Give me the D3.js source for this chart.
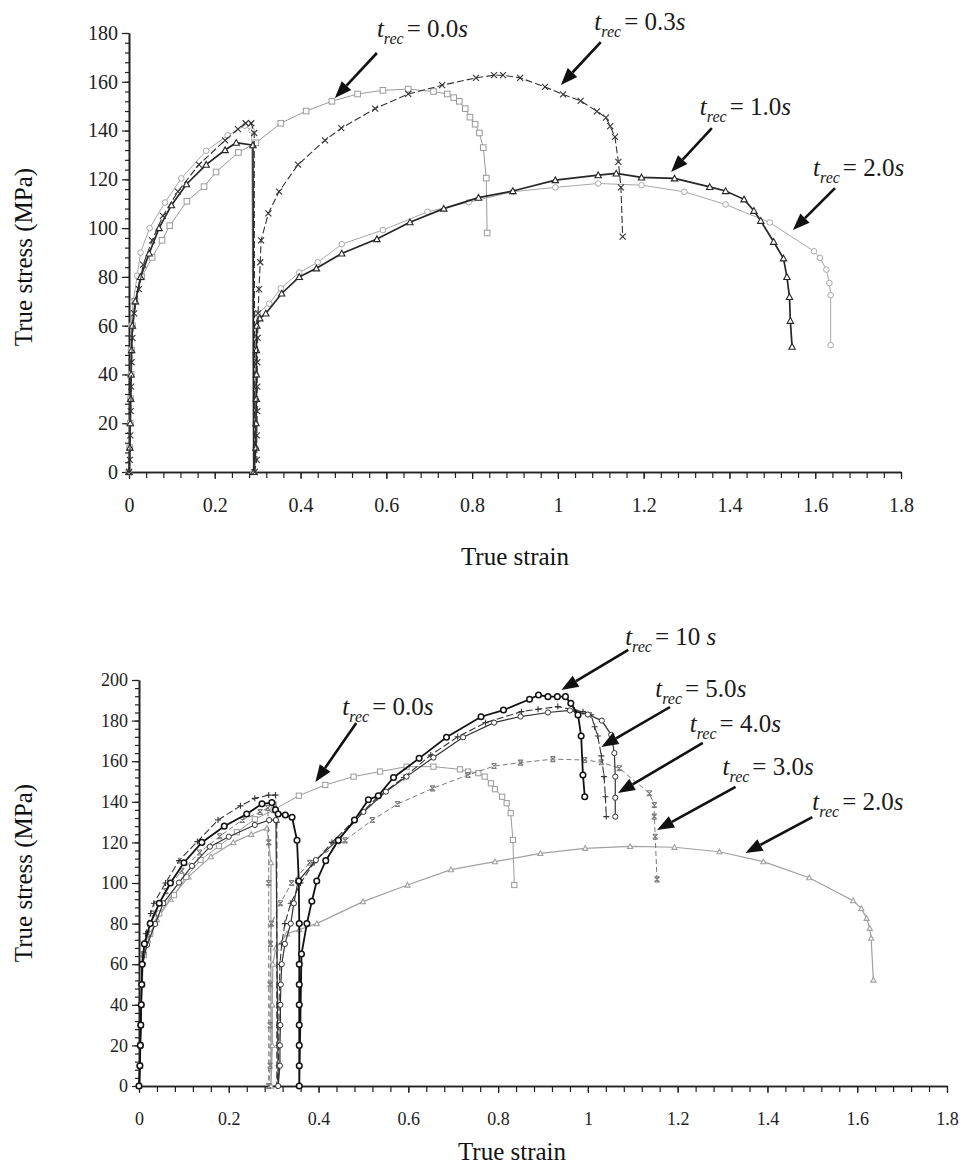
<!DOCTYPE html>
<html>
<head>
<meta charset="utf-8">
<script src="https://cdn.jsdelivr.net/npm/d3@7"></script>
<style>
  body { margin: 0; background: #fff; }
  svg { display: block; font-family: "Liberation Serif", "Times New Roman", serif; }
</style>
</head>
<body>
<svg id="chart" width="961" height="1172"></svg>
<script>
// ---- shared ticks ----
const xTicks = [0, 0.2, 0.4, 0.6, 0.8, 1, 1.2, 1.4, 1.6, 1.8];
const topYTicks = [0, 20, 40, 60, 80, 100, 120, 140, 160, 180];
const botYTicks = [0, 20, 40, 60, 80, 100, 120, 140, 160, 180, 200];

// ---- top panel: [true strain, true stress MPa] ----
const top_t00 = [[0,0],[0.002,10],[0.003,20],[0.004,30],[0.005,40],[0.006,50],[0.008,60],[0.014,70],[0.03,80],[0.054,88],[0.077,95],[0.095,101],[0.135,111],[0.175,117],[0.203,123],[0.255,131],[0.296,135],[0.354,143],[0.413,148],[0.473,152],[0.533,155],[0.592,156.5],[0.651,157],[0.71,156],[0.742,155],[0.757,153.5],[0.77,152],[0.784,149],[0.795,145.5],[0.807,142.6],[0.817,139],[0.826,133],[0.833,120.5],[0.835,98]];
const top_t03 = [[0,0],[0.002,5],[0.003,15],[0.004,25],[0.005,35],[0.006,45],[0.008,55],[0.012,65],[0.023,75],[0.033,85],[0.054,95],[0.079,105],[0.114,115],[0.163,126],[0.224,136],[0.254,140.6],[0.272,143],[0.285,143],[0.292,139],[0.293,0],[0.298,5],[0.298,15],[0.299,25],[0.299,35],[0.299,45],[0.3,55],[0.301,65],[0.303,75],[0.306,86],[0.308,95],[0.325,106],[0.35,115],[0.394,126],[0.457,136],[0.495,141],[0.574,149],[0.651,155],[0.73,158.6],[0.809,161.6],[0.851,162.7],[0.872,162.7],[0.912,161.6],[0.97,157.9],[1.012,154.8],[1.053,152.2],[1.091,147.9],[1.112,145.3],[1.122,141.8],[1.133,137.4],[1.141,127.2],[1.147,116.7],[1.151,96.5]];
const top_t10 = [[0,0],[0.002,10],[0.003,20],[0.004,30],[0.005,40],[0.006,50],[0.008,60],[0.015,70],[0.027,80],[0.047,89.6],[0.07,100],[0.099,109.4],[0.134,118],[0.18,126],[0.224,132],[0.25,135],[0.289,134],[0.291,0],[0.296,10],[0.296,20],[0.297,30],[0.297,40],[0.297,50],[0.298,60],[0.305,63],[0.319,65],[0.356,73.2],[0.397,80],[0.437,83.5],[0.496,89.6],[0.578,95.5],[0.655,102.4],[0.734,108],[0.815,112.5],[0.895,115.2],[0.994,119.7],[1.094,121.7],[1.136,122.4],[1.195,120.8],[1.272,120.4],[1.354,116.9],[1.391,115.2],[1.434,111.8],[1.457,107.1],[1.473,103],[1.503,94.4],[1.526,87.6],[1.534,80],[1.54,71.8],[1.542,62],[1.546,51.4]];
const top_t20 = [[0,0],[0.002,10],[0.003,20],[0.003,30],[0.004,40],[0.004,50],[0.005,60],[0.01,70],[0.019,80.5],[0.027,90],[0.048,100],[0.084,110.5],[0.122,120.4],[0.18,131.7],[0.23,138],[0.27,142],[0.286,140],[0.29,0],[0.295,10],[0.295,20],[0.295,30],[0.296,40],[0.296,50],[0.296,60],[0.3,65],[0.327,69],[0.354,75.3],[0.397,81.8],[0.44,86],[0.496,93.4],[0.592,99.2],[0.696,106.7],[0.792,110.6],[0.895,114.9],[0.994,116.7],[1.094,118.3],[1.195,117.6],[1.295,114.9],[1.391,109.7],[1.494,102.3],[1.597,90.5],[1.611,87.8],[1.626,83],[1.633,77.5],[1.636,72.5],[1.636,52]];

// ---- bottom panel ----
const bot_t00 = [[0,0],[0.002,10],[0.003,20],[0.004,30],[0.005,40],[0.007,50],[0.011,64.5],[0.025,75],[0.045,85],[0.078,94],[0.105,103],[0.137,111.3],[0.178,118.2],[0.218,125],[0.258,131.4],[0.3,136],[0.356,143],[0.415,148.3],[0.478,152.4],[0.537,154.9],[0.596,157.3],[0.656,157.3],[0.715,156],[0.733,154.9],[0.756,154.1],[0.77,152.4],[0.784,149.1],[0.793,146.2],[0.809,142.5],[0.819,139.3],[0.828,134.4],[0.833,121.2],[0.836,99]];
const bot_t20 = [[0,0],[0.002,10],[0.003,20],[0.004,30],[0.005,40],[0.005,50],[0.006,60],[0.02,72],[0.04,82],[0.07,92],[0.11,103],[0.16,113],[0.21,120],[0.25,124],[0.285,127],[0.294,110],[0.294,0],[0.297,20],[0.297,40],[0.298,60],[0.305,68],[0.33,75],[0.357,77],[0.396,80],[0.499,90.8],[0.598,99],[0.695,106.6],[0.793,110.5],[0.894,114.6],[0.994,117.1],[1.094,118],[1.193,117.6],[1.293,115.4],[1.391,110.5],[1.493,102.6],[1.591,91.3],[1.609,87.5],[1.621,82.6],[1.628,77.7],[1.631,72.8],[1.636,52.2]];
const bot_t30 = [[0,0],[0.002,10],[0.003,20],[0.004,30],[0.005,40],[0.006,50],[0.008,65],[0.02,75],[0.035,85],[0.06,96],[0.095,106],[0.135,115],[0.18,123],[0.23,131],[0.27,135],[0.287,137],[0.289,120],[0.289,100],[0.289,0],[0.292,10],[0.292,30],[0.292,50],[0.293,70],[0.295,80],[0.315,90],[0.34,100],[0.38,110],[0.459,121],[0.52,131],[0.576,138.9],[0.654,146.6],[0.733,153.2],[0.791,157.6],[0.85,159.3],[0.922,161],[0.993,160.6],[1.03,159.5],[1.07,156.5],[1.137,144.2],[1.148,138.4],[1.148,132.7],[1.15,122.8],[1.154,101.8]];
const bot_t40 = [[0,0],[0.002,10],[0.003,20],[0.004,30],[0.005,40],[0.006,50],[0.008,60],[0.018,69.5],[0.036,79.8],[0.054,90],[0.089,100.2],[0.118,108.4],[0.158,117.9],[0.2,122.8],[0.258,128.6],[0.29,131],[0.305,131],[0.31,0],[0.314,10],[0.314,20],[0.315,30],[0.315,40],[0.316,50],[0.318,60],[0.325,70],[0.338,80],[0.345,90],[0.354,100.7],[0.394,111.3],[0.444,121.5],[0.5,135],[0.55,145],[0.596,152.4],[0.656,161.8],[0.722,171.8],[0.791,179],[0.85,182],[0.911,184],[0.96,185],[1.0,183],[1.031,180],[1.052,173],[1.059,164],[1.061,152.4],[1.061,142],[1.061,132.7]];
const bot_t50 = [[0,0],[0.002,10],[0.003,20],[0.004,30],[0.005,40],[0.006,50],[0.008,60],[0.015,75],[0.026,85],[0.033,90],[0.059,100],[0.089,111],[0.13,120.4],[0.176,131],[0.226,138],[0.258,141.7],[0.289,143.3],[0.304,143.3],[0.307,130],[0.307,0],[0.311,10],[0.311,20],[0.312,30],[0.312,40],[0.313,50],[0.314,60],[0.318,70],[0.325,80],[0.338,90],[0.36,100],[0.39,110],[0.43,120],[0.48,131],[0.53,142],[0.59,152],[0.65,163],[0.71,172],[0.772,179],[0.852,184.4],[0.889,185.6],[0.933,186.9],[0.97,185.2],[0.989,184.4],[1.007,182.8],[1.015,177],[1.022,172.4],[1.03,162.6],[1.036,152.4],[1.039,142.5],[1.041,132.7]];
const bot_t100 = [[0,0],[0.002,10],[0.003,20],[0.004,30],[0.005,40],[0.006,50],[0.007,60],[0.012,70],[0.025,80],[0.045,90],[0.07,100],[0.1,110],[0.14,120],[0.19,128],[0.24,134],[0.274,139],[0.296,139.6],[0.304,136],[0.31,134],[0.326,133.5],[0.341,132.4],[0.352,121],[0.356,101],[0.357,80],[0.357,60],[0.357,50],[0.357,40],[0.357,30],[0.357,20],[0.357,10],[0.357,0],[0.362,65],[0.374,80],[0.385,91],[0.396,101],[0.416,111],[0.444,121],[0.48,131],[0.511,141],[0.533,143],[0.567,152],[0.624,161.4],[0.685,171.8],[0.762,181.9],[0.812,185.2],[0.87,190.5],[0.89,192.6],[0.911,191.8],[0.932,191.8],[0.95,191.8],[0.962,188.5],[0.978,182.8],[0.985,172.4],[0.989,153.2],[0.993,142.5]];

// ---- annotations: label text, label anchor, arrow tail, arrow head (data units) ----
const topLabels = ['0.0', '0.3', '1.0', '2.0'];
const topLabelAt = [[0.578,178.4],[1.085,181.2],[1.331,146.4],[1.595,121.5]];
const topArrowFrom = [[0.578,171.8],[1.1,176.3],[1.359,141.0],[1.646,116.4]];
const topArrowTo = [[0.48,153.3],[1.007,158.7],[1.264,123.0],[1.548,99.2]];

const botLabels = ['0.0', '10 ', '5.0', '4.0', '3.0', '2.0'];
const botLabelAt = [[0.453,182.8],[1.083,217.2],[1.15,191.6],[1.227,174.4],[1.3,153.2],[1.5,136]];
const botArrowFrom = [[0.484,178.8],[1.09,214.8],[1.183,186.7],[1.256,169],[1.329,147.3],[1.5,132.5]];
const botArrowTo = [[0.393,149.8],[0.941,195.1],[1.03,167],[1.067,144.3],[1.154,126.1],[1.351,114.8]];

const svg = d3.select('#chart');
const light = '#9a9a9a';
const dark = '#262626';

function markerPath(type, s) {
    if (type === 'triangle') return `M0,${-s}L${s},${s * 0.8}L${-s},${s * 0.8}Z`;
    if (type === 'x') return `M${-s},${-s}L${s},${s}M${s},${-s}L${-s},${s}`;
    if (type === 'plus') return `M${-s},0L${s},0M0,${-s}L0,${s}`;
    if (type === 'xbar') return `M${-s},${-s}L${s},${s}M${s},${-s}L${-s},${s}M${-s},${-s}L${s},${-s}M${-s},${s}L${s},${s}`;
    return null;
}

function drawSeries(g, x, y, data, st) {
    const line = d3.line().x(d => x(d[0])).y(d => y(d[1]));
    g.append('path')
        .datum(data)
        .attr('d', line)
        .attr('fill', 'none')
        .attr('stroke', st.color)
        .attr('stroke-width', st.width)
        .attr('stroke-dasharray', st.dash || null);

    const m = g.append('g');
    if (st.marker === 'square') {
        m.selectAll('rect').data(data).join('rect')
            .attr('x', d => x(d[0]) - st.size)
            .attr('y', d => y(d[1]) - st.size)
            .attr('width', st.size * 2)
            .attr('height', st.size * 2)
            .attr('fill', '#fff').attr('stroke', st.color).attr('stroke-width', 1);
    } else if (st.marker === 'circle') {
        m.selectAll('circle').data(data).join('circle')
            .attr('cx', d => x(d[0]))
            .attr('cy', d => y(d[1]))
            .attr('r', st.size)
            .attr('fill', '#fff').attr('stroke', st.color).attr('stroke-width', st.mw || 1);
    } else {
        m.selectAll('path').data(data).join('path')
            .attr('transform', d => `translate(${x(d[0])},${y(d[1])})`)
            .attr('d', markerPath(st.marker, st.size))
            .attr('fill', st.marker === 'triangle' ? '#fff' : 'none')
            .attr('stroke', st.color)
            .attr('stroke-width', st.mw || 1.1);
    }
}

function drawAxes(g, x, y, yTicks, yMax, fs) {
    const xAxis = g.append('g').attr('transform', `translate(0,${y(0)})`);
    xAxis.call(d3.axisBottom(x).tickValues(d3.range(0, 46).map(i => i * 0.04)).tickSize(6).tickSizeOuter(0).tickFormat(''));
    xAxis.append('g').call(d3.axisBottom(x).tickValues(xTicks).tickSize(7).tickSizeOuter(0).tickPadding(19).tickFormat(d => String(d)));

    const yAxis = g.append('g').attr('transform', `translate(${x(0)},0)`);
    yAxis.call(d3.axisLeft(y).tickValues(d3.range(0, yMax / 4 + 1).map(i => i * 4)).tickSize(4).tickSizeOuter(0).tickFormat(''));
    yAxis.append('g').call(d3.axisLeft(y).tickValues(yTicks).tickSize(7).tickSizeOuter(0).tickPadding(4));

    g.selectAll('.domain').attr('stroke', '#222').attr('stroke-width', 1.6);
    g.selectAll('.tick line').attr('stroke', '#222').attr('stroke-width', 1.2);
    g.selectAll('.tick text').attr('font-family', '"Liberation Serif", serif').attr('font-size', fs).attr('fill', '#222');
}

function addLabel(g, px, py, value) {
    const t = g.append('text').attr('x', px).attr('y', py)
        .attr('font-size', 25).attr('fill', '#1a1a1a').style('white-space', 'pre');
    t.append('tspan').attr('font-style', 'italic').text('t');
    t.append('tspan').attr('font-style', 'italic').attr('font-size', 16).attr('dy', 7).text('rec');
    t.append('tspan').attr('dy', -7).attr('dx', 3).text('= ' + value);
    t.append('tspan').attr('font-style', 'italic').text('s');
}

function addArrow(g, x1, y1, x2, y2) {
    const ang = Math.atan2(y2 - y1, x2 - x1);
    const hl = 17, hw = 6.5;
    const bx = x2 - hl * Math.cos(ang), by = y2 - hl * Math.sin(ang);
    const nx = -Math.sin(ang), ny = Math.cos(ang);
    g.append('line').attr('x1', x1).attr('y1', y1).attr('x2', bx).attr('y2', by)
        .attr('stroke', '#111').attr('stroke-width', 2.6);
    g.append('path')
        .attr('d', `M${x2},${y2}L${bx + nx * hw},${by + ny * hw}L${bx - nx * hw},${by - ny * hw}Z`)
        .attr('fill', '#111');
}

function titles(g, cx, cyStrain, cyStress, xStress) {
    g.append('text').attr('x', cx).attr('y', cyStrain).attr('text-anchor', 'middle')
        .attr('font-size', 25).attr('fill', '#111').text('True strain');
    g.append('text').attr('transform', `translate(${xStress},${cyStress}) rotate(-90)`)
        .attr('text-anchor', 'middle').attr('font-size', 25).attr('fill', '#111').text('True stress (MPa)');
}

// ---- top panel ----
const xTop = d3.scaleLinear().domain([0, 1.8]).range([129, 901]);
const yTop = d3.scaleLinear().domain([0, 180]).range([472, 33]);
const gTop = svg.append('g');
drawAxes(gTop, xTop, yTop, topYTicks, 180, 20);
drawSeries(gTop, xTop, yTop, top_t20, { color: '#a8a8a8', width: 1, marker: 'circle', size: 2.8 });
drawSeries(gTop, xTop, yTop, top_t00, { color: light, width: 1, marker: 'square', size: 2.8 });
drawSeries(gTop, xTop, yTop, top_t10, { color: dark, width: 1.7, marker: 'triangle', size: 3.2 });
drawSeries(gTop, xTop, yTop, top_t03, { color: '#333', width: 1.1, dash: '7,3', marker: 'x', size: 3 });
topLabels.forEach((v, i) => {
    addLabel(gTop, xTop(topLabelAt[i][0]), yTop(topLabelAt[i][1]), v);
    addArrow(gTop, xTop(topArrowFrom[i][0]), yTop(topArrowFrom[i][1]), xTop(topArrowTo[i][0]), yTop(topArrowTo[i][1]));
});
titles(gTop, 515, 565, 257, 32);

// ---- bottom panel ----
const xBot = d3.scaleLinear().domain([0, 1.8]).range([139, 947]);
const yBot = d3.scaleLinear().domain([0, 200]).range([1086, 680]);
const gBot = svg.append('g');
drawAxes(gBot, xBot, yBot, botYTicks, 200, 18);
drawSeries(gBot, xBot, yBot, bot_t20, { color: '#a0a0a0', width: 1.2, marker: 'triangle', size: 2.6 });
drawSeries(gBot, xBot, yBot, bot_t00, { color: light, width: 1, marker: 'square', size: 2.6 });
drawSeries(gBot, xBot, yBot, bot_t30, { color: '#7a7a7a', width: 1, dash: '5,3', marker: 'xbar', size: 2.5 });
drawSeries(gBot, xBot, yBot, bot_t50, { color: '#333', width: 1.1, dash: '7,3', marker: 'plus', size: 3 });
drawSeries(gBot, xBot, yBot, bot_t40, { color: '#333', width: 1.2, marker: 'circle', size: 2.6 });
drawSeries(gBot, xBot, yBot, bot_t100, { color: '#111', width: 1.8, marker: 'circle', size: 2.8, mw: 1.5 });
botLabels.forEach((v, i) => {
    addLabel(gBot, xBot(botLabelAt[i][0]), yBot(botLabelAt[i][1]), v);
    addArrow(gBot, xBot(botArrowFrom[i][0]), yBot(botArrowFrom[i][1]), xBot(botArrowTo[i][0]), yBot(botArrowTo[i][1]));
});
titles(gBot, 512, 1160, 873, 32);
</script>
</body>
</html>
